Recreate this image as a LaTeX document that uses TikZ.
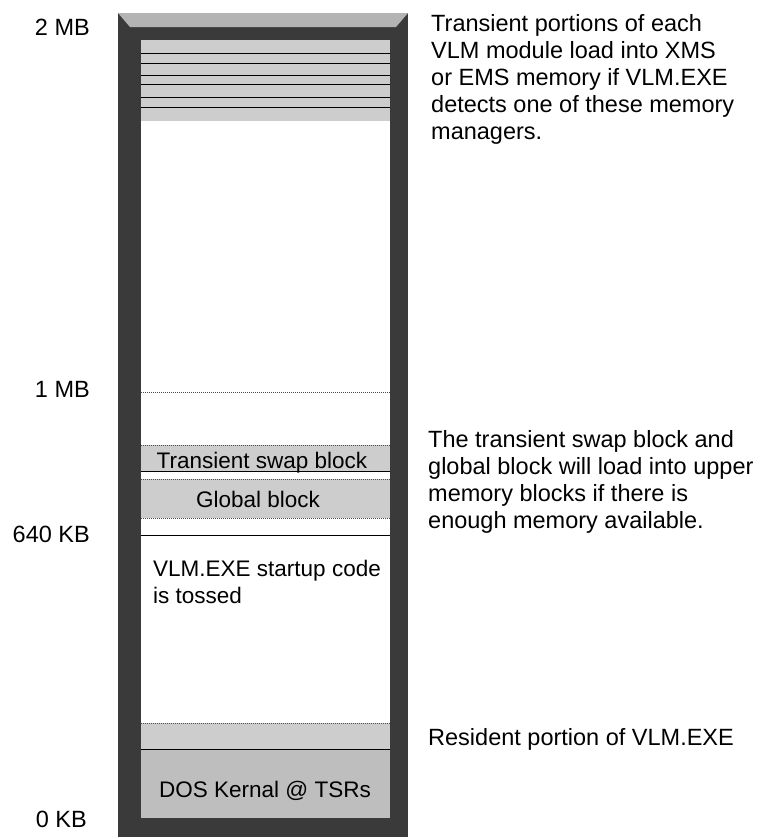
\documentclass[tikz,border=0pt]{standalone}
\usepackage{fontspec}
\setmainfont{Liberation Sans}
\usetikzlibrary{positioning}
\definecolor{memFrame}{HTML}{3A3A3A}
\definecolor{memBevel}{HTML}{B4B4B4}
\definecolor{memBlock}{HTML}{CDCDCD}
\definecolor{memDos}{HTML}{BEBEBE}

\begin{document}
\begin{tikzpicture}[
    x=1pt, y=-1pt,
    font=\fontsize{23.5}{27}\selectfont,
    lbl/.style={anchor=base east, inner sep=0pt},
    note/.style={anchor=north west, inner sep=0pt, align=left},
    inbar/.style={anchor=base, inner sep=0pt, font=\fontsize{22.5}{27}\selectfont},
    sep/.style={line width=1pt, draw=black},
    dotsep/.style={line width=1pt, draw=black!70, dash pattern=on 1pt off 1pt},
  ]
  \useasboundingbox (0,0) rectangle (769,839);
  % frame
  \fill[memFrame] (118,13) rectangle (408,837);
  \fill[memBevel] (118,13) -- (408,13) -- (396,27) -- (130,27) -- cycle;
  \fill[white] (141,40) rectangle (390,818);
  % XMS / EMS region
  \fill[memBlock] (141,40) rectangle (390,121);
  \foreach \y in {53,63,75,84,97,107}
    \draw[sep] (141,\y) -- (390,\y);
  % 1 MB boundary
  \draw[dotsep] (141,392) -- (390,392);
  % transient swap block
  \fill[memBlock] (141,445) rectangle (390,471);
  \draw[dotsep] (141,445) -- (390,445);
  \draw[sep] (141,471) -- (390,471);
  % global block
  \fill[memBlock] (141,479) rectangle (390,518);
  \draw[dotsep] (141,479) -- (390,479);
  \draw[dotsep] (141,518) -- (390,518);
  % 640 KB boundary
  \draw[sep] (141,535) -- (390,535);
  % resident portion + DOS kernal
  \fill[memBlock] (141,723) rectangle (390,749);
  \fill[memDos] (141,749) rectangle (390,818);
  \draw[dotsep] (141,723) -- (390,723);
  \draw[sep] (141,749) -- (390,749);
  % address labels
  \node[lbl] (mb2)   at (90,35)  {2 MB};
  \node[lbl] (mb1)   at (90,397) {1 MB};
  \node[lbl] (kb640) at (90,542) {640 KB};
  \node[lbl] (kb0)   at (87,827) {0 KB};
  % texts in the bar
  \node[inbar] (swap) at (262,468) {Transient swap block};
  \node[inbar] (glob) at (258,507) {Global block};
  \node[note, font=\fontsize{22.5}{27}\selectfont] (startup) at (153,560)
        {VLM.EXE startup code\\is tossed};
  \node[inbar] (dos)  at (265,797) {DOS Kernal @ TSRs};
  % notes
  \node[note] (xms) at (431,14)
        {Transient portions of each\\VLM module load into XMS\\or EMS memory if VLM.EXE\\detects one of these memory\\managers.};
  \node[note] (umb) at (428,430)
        {The transient swap block and\\global block will load into upper\\memory blocks if there is\\enough memory available.};
  \node[anchor=base west, inner sep=0pt] (res) at (428,745) {Resident portion of VLM.EXE};
\end{tikzpicture}
\end{document}
